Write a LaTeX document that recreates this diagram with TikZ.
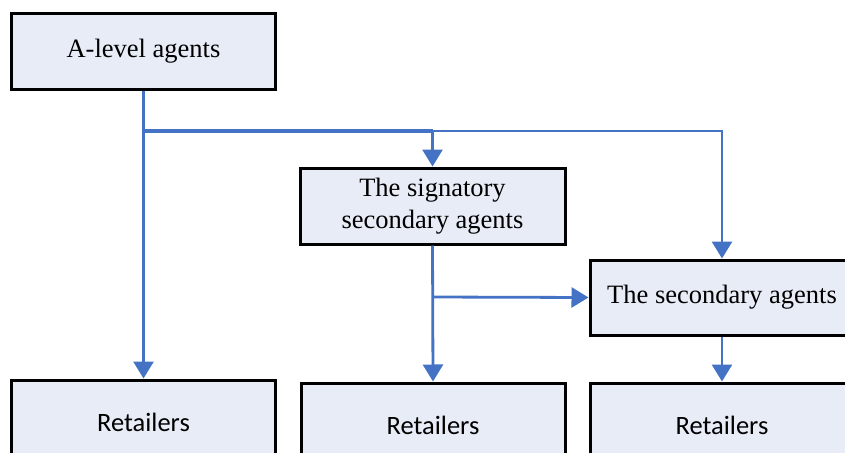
\documentclass[tikz,border=0pt]{standalone}
\usepackage{fontspec}
\setmainfont{Liberation Serif}
\newfontfamily\calibrifont{Carlito}
\usetikzlibrary{arrows.meta}
\definecolor{boxfill}{HTML}{E7ECF6}
\definecolor{flowblue}{HTML}{4472C4}
\begin{document}
\begin{tikzpicture}[x=1pt,y=-1pt,
  agentbox/.style={draw=black, line width=3pt, fill=boxfill,
    minimum width=264pt, minimum height=75pt, inner sep=0pt,
    align=center, font=\fontsize{26.5}{32}\selectfont},
  retailbox/.style={agentbox, minimum height=85pt,
    font=\calibrifont\fontsize{26.5}{32}\selectfont},
  flow/.style={draw=flowblue, line width=2.8pt},
  arr/.style={flow, -{Triangle[width=20pt,length=17pt]}},
]
\useasboundingbox (0,0) rectangle (845,452);
\clip (0,0) rectangle (845,452);

% agents
\node[agentbox] (A)   at (143.5,51.5) {A-level agents};
\node[agentbox, minimum width=265pt, minimum height=76pt] (sig) at (432.5,206) {The signatory\\secondary agents};
\node[agentbox] (sec) at (722,297.5) {The secondary agents};

% retailers
\node[retailbox] (R1) at (143.5,422.5) {Retailers};
\node[retailbox] (R2) at (433,425.5) {Retailers};
\node[retailbox] (R3) at (722,425.5) {Retailers};

% junction points
\coordinate (j1) at (143.5,131);
\coordinate (j2) at (432.5,131);
\coordinate (j3) at (722,131);
\coordinate (j4) at (432.5,297);

% A-level distribution
\draw[arr] (A.south) -- (R1.north);
\draw[flow, line width=3.6pt] (j1) -- (j2);
\draw[arr] (j2) -- (sig.north);
\draw[arr] (j2) -- (j3) -- (sec.north);

% signatory secondary distribution
\draw[arr] (sig.south) -- (R2.north);
\draw[arr] (j4) -- (sec.west);

% secondary distribution
\draw[arr] (sec.south) -- (R3.north);
\end{tikzpicture}
\end{document}
